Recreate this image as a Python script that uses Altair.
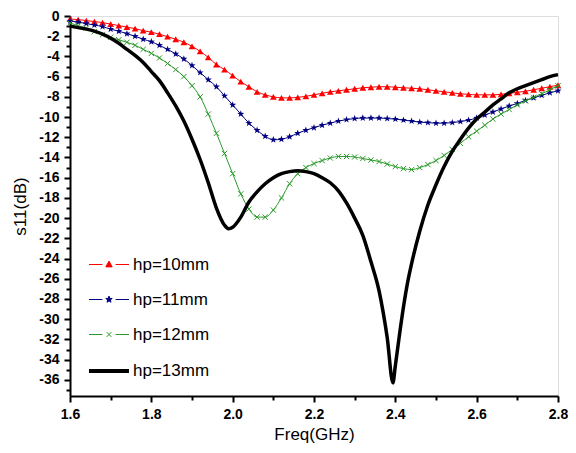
import altair as alt
import pandas as pd

# ---------------- data ----------------
series_names = ["hp=10mm", "hp=11mm", "hp=12mm", "hp=13mm"]
series_colors = ["#ff0000", "#000080", "#2a9a2a", "#000000"]

freq = [1.60, 1.62, 1.64, 1.66, 1.68, 1.70, 1.72, 1.74, 1.76, 1.78,
        1.80, 1.82, 1.84, 1.86, 1.88, 1.90, 1.92, 1.94, 1.96, 1.98,
        2.00, 2.02, 2.04, 2.06, 2.08, 2.10, 2.12, 2.14, 2.16, 2.18,
        2.20, 2.22, 2.24, 2.26, 2.28, 2.30, 2.32, 2.34, 2.36, 2.38,
        2.40, 2.42, 2.44, 2.46, 2.48, 2.50, 2.52, 2.54, 2.56, 2.58,
        2.60, 2.62, 2.64, 2.66, 2.68, 2.70, 2.72, 2.74, 2.76, 2.78, 2.80]

s11_hp10 = [-0.3, -0.35, -0.45, -0.55, -0.65, -0.8, -0.95, -1.1, -1.25, -1.45,
            -1.6, -1.8, -2.05, -2.3, -2.6, -3.0, -3.5, -4.1, -4.8, -5.3,
            -5.9, -6.5, -7.0, -7.5, -7.8, -8.0, -8.1, -8.1, -8.05, -7.95,
            -7.8, -7.65, -7.5, -7.4, -7.3, -7.2, -7.1, -7.05, -7.0, -7.0,
            -7.05, -7.1, -7.15, -7.2, -7.3, -7.4, -7.5, -7.6, -7.7, -7.75,
            -7.8, -7.8, -7.8, -7.75, -7.65, -7.55, -7.45, -7.3, -7.15, -7.0, -6.85]

s11_hp11 = [-0.5, -0.6, -0.75, -0.9, -1.05, -1.3, -1.5, -1.75, -2.0, -2.3,
            -2.55, -2.9, -3.3, -3.75, -4.25, -4.9, -5.6, -6.3, -7.0, -7.9,
            -8.8, -9.7, -10.6, -11.3, -11.9, -12.25, -12.2, -11.95, -11.6, -11.3,
            -11.05, -10.8, -10.6, -10.4, -10.25, -10.15, -10.1, -10.1, -10.1, -10.15,
            -10.2, -10.3, -10.4, -10.5, -10.55, -10.6, -10.6, -10.55, -10.45, -10.3,
            -10.1, -9.8, -9.5, -9.2, -8.9, -8.65, -8.35, -8.1, -7.85, -7.6, -7.4]

s11_hp12 = [-0.7, -0.95, -1.2, -1.55, -1.85, -2.1, -2.35, -2.6, -2.9, -3.3,
            -3.7, -4.15, -4.7, -5.3, -6.0, -6.9, -8.0, -9.7, -11.6, -13.6,
            -15.6, -17.6, -19.1, -19.9, -19.9, -19.2, -18.0, -16.6, -15.6, -15.0,
            -14.6, -14.3, -14.05, -13.9, -13.9, -13.95, -14.1, -14.25, -14.4, -14.65,
            -14.9, -15.1, -15.2, -15.0, -14.7, -14.3, -13.8, -13.2, -12.6, -11.95,
            -11.4, -10.8, -10.2, -9.7, -9.25, -8.8, -8.4, -8.05, -7.7, -7.3, -6.9]

freq_hp13 = [1.60, 1.62, 1.64, 1.66, 1.68, 1.70, 1.72, 1.74, 1.76, 1.78,
             1.80, 1.82, 1.84, 1.86, 1.88, 1.90, 1.92, 1.94, 1.96, 1.98,
             1.99, 2.00, 2.02, 2.04, 2.06, 2.08, 2.10, 2.12, 2.14, 2.16,
             2.18, 2.20, 2.22, 2.24, 2.26, 2.28, 2.30, 2.32, 2.34, 2.36,
             2.37, 2.38, 2.394, 2.40, 2.41, 2.42, 2.43, 2.44, 2.46, 2.48,
             2.50, 2.52, 2.54, 2.56, 2.58, 2.60, 2.62, 2.64, 2.66, 2.68,
             2.70, 2.72, 2.74, 2.76, 2.78, 2.80]
s11_hp13 = [-1.0, -1.15, -1.3, -1.5, -1.8, -2.2, -2.7, -3.3, -3.9, -4.6,
            -5.5, -6.4, -7.6, -8.9, -10.4, -12.2, -14.2, -16.5, -19.0, -20.7,
            -21.05, -20.9, -19.9, -18.4, -17.4, -16.6, -16.0, -15.6, -15.4, -15.3,
            -15.4, -15.6, -16.0, -16.5, -17.3, -18.5, -20.0, -21.7, -24.3, -27.2,
            -29.3, -31.8, -36.3, -34.6, -31.6, -28.8, -26.4, -24.5, -21.3, -18.7,
            -16.7, -14.9, -13.4, -12.2, -11.1, -10.2, -9.5, -8.8, -8.2, -7.6,
            -7.2, -6.9, -6.6, -6.3, -6.0, -5.8]

x_ticks = [1.6, 1.7, 1.8, 1.9, 2.0, 2.1, 2.2, 2.3, 2.4, 2.5, 2.6, 2.7, 2.8]
y_ticks = [-37, -36, -35, -34, -33, -32, -31, -30, -29, -28, -27, -26, -25,
           -24, -23, -22, -21, -20, -19, -18, -17, -16, -15, -14, -13, -12,
           -11, -10, -9, -8, -7, -6, -5, -4, -3, -2, -1, 0]

# ---------------- build tables ----------------
rows = []
for name, ys in zip(series_names[:3], [s11_hp10, s11_hp11, s11_hp12]):
    for f, v in zip(freq, ys):
        rows.append({"series": name, "freq": f, "s11": v})
for f, v in zip(freq_hp13, s11_hp13):
    rows.append({"series": series_names[3], "freq": f, "s11": v})
df = pd.DataFrame(rows)
legend_df = pd.DataFrame({"series": series_names})

FONT = "Liberation Sans"

# marker paths
STAR = ("M0,-1L0.235,-0.324L0.951,-0.309L0.38,0.124L0.588,0.809L0,0.4"
        "L-0.588,0.809L-0.38,0.124L-0.951,-0.309L-0.235,-0.324Z")
XMARK = "M-1,-1L1,1M-1,1L1,-1"

# legend symbol paths (line - marker - line)
LEG_RED = "M-1,0H-0.33M0.33,0H1M0,-0.17L0.16,0.12L-0.16,0.12Z"
LEG_BLUE = ("M-1,0H-0.33M0.33,0H1M0,-0.17L0.04,-0.055L0.162,-0.053L0.065,0.021"
            "L0.1,0.138L0,0.068L-0.1,0.138L-0.065,0.021L-0.162,-0.053L-0.04,-0.055Z")
LEG_GREEN = "M-1,0H-0.33M0.33,0H1M-0.12,-0.12L0.12,0.12M-0.12,0.12L0.12,-0.12"
LEG_BLACK = "M-1,0H1"

x_scale = alt.Scale(domain=[1.6, 2.8], nice=False, zero=False)
y_scale = alt.Scale(domain=[-37.6, 0], nice=False, zero=False)

axis_common = dict(
    domainColor="black", domainWidth=2, tickColor="black", tickWidth=2,
    labelFont=FONT, labelFontSize=14, labelFontWeight="bold", labelColor="black",
    titleFont=FONT, titleFontSize=17, titleFontWeight="normal", titleColor="black",
    grid=False, labelOverlap=False, labelFlush=False, labelBound=False,
)

x_axis = alt.Axis(
    values=x_ticks, title="Freq(GHz)",
    labelExpr="round(datum.value*10) % 2 == 0 ? format(datum.value, '.1f') : ''",
    tickSize={"condition": {"test": "round(datum.value*10) % 2 == 0", "value": 6}, "value": 4},
    labelPadding=5, titlePadding=5, **axis_common)

y_axis = alt.Axis(
    values=y_ticks, title="s11(dB)",
    labelExpr="datum.value % 2 == 0 ? '' + datum.value : ''",
    tickSize={"condition": {"test": "datum.value % 2 == 0", "value": 6}, "value": 4},
    labelPadding=5, titlePadding=9, **axis_common)

X = alt.X("freq:Q", scale=x_scale, axis=x_axis)
Y = alt.Y("s11:Q", scale=y_scale, axis=y_axis)

base = alt.Chart(df)

layers = []
marker_specs = [
    (series_names[0], series_colors[0], "triangle-up", 45, True),
    (series_names[1], series_colors[1], STAR, 55, True),
    (series_names[2], series_colors[2], XMARK, 28, False),
]
for name, color, shape, size, filled in marker_specs:
    sub = base.transform_filter(alt.datum.series == name)
    layers.append(sub.mark_line(color=color, strokeWidth=1, interpolate="monotone")
                  .encode(x=X, y=Y))
    if filled:
        layers.append(sub.mark_point(shape=shape, size=size, filled=True,
                                     color=color, opacity=1)
                      .encode(x=X, y=Y))
    else:
        layers.append(sub.mark_point(shape=shape, size=size, filled=False,
                                     color=color, strokeWidth=1, opacity=1)
                      .encode(x=X, y=Y))

layers.append(base.transform_filter(alt.datum.series == series_names[3])
              .mark_line(color=series_colors[3], strokeWidth=3.5, interpolate="monotone")
              .encode(x=X, y=Y))

leg = alt.Legend(title=None, orient="none", legendX=17, legendY=228,
                 symbolSize=1600, labelFont=FONT, labelFontSize=17,
                 labelColor="black", labelOffset=2, rowPadding=6, padding=0,
                 symbolOpacity=1)

legend_layer = (alt.Chart(legend_df)
                .transform_filter("datum.series == 'none'")
                .mark_point(filled=True, opacity=1)
                .encode(
                    fill=alt.Fill("series:N", scale=alt.Scale(domain=series_names, range=series_colors), legend=leg),
                    stroke=alt.Stroke("series:N", scale=alt.Scale(domain=series_names, range=series_colors), legend=leg),
                    shape=alt.Shape("series:N", scale=alt.Scale(domain=series_names,
                                                               range=[LEG_RED, LEG_BLUE, LEG_GREEN, LEG_BLACK]), legend=leg),
                    strokeWidth=alt.StrokeWidth("series:N", scale=alt.Scale(type="ordinal", domain=series_names,
                                                                           range=[1, 1, 1, 4]), legend=leg),
                ))
layers.append(legend_layer)

chart = (alt.layer(*layers)
         .properties(width=488, height=380,
                     autosize=alt.AutoSizeParams(type="none"),
                     padding={"left": 62, "top": 8, "right": 10, "bottom": 49})
         .configure_view(stroke=None)
         .configure(background="white"))

chart.save("out.html", embed_options={"renderer": "svg", "actions": False})
